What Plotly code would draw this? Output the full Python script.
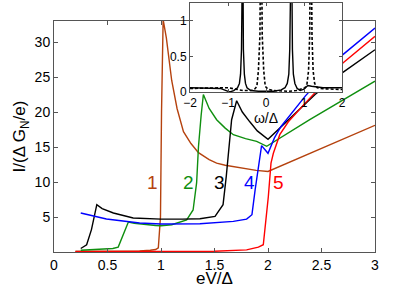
import plotly.graph_objects as go

# ---- main panel data (eV/Delta, I/(Delta G_N/e)) ----
x1 = [0.2, 0.5, 0.8, 0.9, 0.95, 0.975, 0.995, 1.005, 1.02, 1.05, 1.1, 1.15, 1.21, 1.28, 1.35, 1.45, 1.52, 1.6, 1.74, 1.89, 2.0, 2.5, 3.0]
y1 = [0.1, 0.1, 0.15, 0.25, 0.35, 0.6, 5.0, 20.0, 33.2, 30.6, 24.5, 20.5, 17.2, 15.5, 14.2, 13.2, 12.7, 12.4, 12.0, 11.66, 11.5, 14.8, 18.1]

x2 = [0.25, 0.4, 0.55, 0.6, 0.65, 0.695, 0.75, 0.85, 0.95, 1.0, 1.1, 1.24, 1.3, 1.333, 1.35, 1.375, 1.396, 1.45, 1.52, 1.6, 1.676, 1.79, 1.894, 1.988, 2.39, 3.0]
y2 = [0.25, 0.35, 0.5, 0.7, 2.5, 4.28, 4.1, 3.9, 3.78, 3.76, 3.9, 4.6, 6.0, 9.9, 15.0, 19.5, 22.5, 20.5, 18.9, 17.7, 16.76, 16.2, 15.8, 15.1, 18.9, 24.4]

x3 = [0.25, 0.305, 0.35, 0.4, 0.45, 0.555, 0.74, 1.0, 1.2, 1.364, 1.505, 1.58, 1.61, 1.66, 1.707, 1.76, 1.83, 1.9, 2.0, 2.096, 2.44, 2.7, 3.0]
y3 = [0.5, 1.04, 3.2, 6.76, 6.2, 5.57, 4.86, 4.7, 4.7, 4.76, 5.09, 6.76, 10.8, 18.9, 21.6, 20.0, 18.6, 17.3, 16.1, 17.5, 22.5, 25.66, 28.9]

x4 = [0.25, 0.49, 0.8, 1.0, 1.364, 1.676, 1.8, 1.85, 1.88, 1.91, 1.94, 2.0, 2.06, 2.12, 2.35, 2.7, 3.0]
y4 = [5.57, 4.71, 4.14, 4.0, 4.04, 4.37, 4.7, 5.33, 8.9, 11.76, 15.2, 14.1, 16.3, 17.9, 22.3, 28.2, 32.0]

x5 = [0.2, 1.0, 1.5, 1.8, 1.91, 1.956, 1.972, 2.003, 2.028, 2.05, 2.11, 2.19, 2.35, 2.7, 3.0]
y5 = [0.05, 0.05, 0.1, 0.3, 0.7, 1.04, 3.2, 7.9, 12.7, 14.1, 16.76, 18.6, 21.3, 27.0, 30.8]

curve_labels = ["1", "2", "3", "4", "5"]
label_x = [0.925, 1.255, 1.55, 1.825, 2.096]
label_y = [9.9, 9.95, 9.86, 9.86, 9.86]

# ---- inset data (omega/Delta, spectral weight) ----
w_solid = [-2.0, -1.5, -1.2, -1.05, -0.95, -0.85, -0.75, -0.70, -0.67, -0.645, -0.63, -0.62, -0.61, -0.595, -0.57,
           -0.54, -0.5, -0.4, -0.2, 0.0, 0.2, 0.4, 0.5, 0.56, 0.6, 0.625, 0.645, 0.66, 0.675, 0.695, 0.72, 0.76,
           0.82, 0.9, 1.0, 1.1, 1.2, 1.3, 1.5, 2.0]
a_solid = [0.06, 0.06, 0.05, 0.02, 0.0, 0.02, 0.06, 0.12, 0.25, 0.6, 1.4, 3.0, 1.4, 0.6, 0.25,
           0.12, 0.06, 0.02, 0.01, 0.01, 0.01, 0.03, 0.06, 0.12, 0.25, 0.6, 1.4, 3.0, 1.4, 0.6, 0.25, 0.12,
           0.05, 0.02, 0.04, 0.09, 0.08, 0.07, 0.06, 0.06]

w_dash = [-2.0, -1.5, -1.2, -1.0, -0.8, -0.6, -0.4, -0.3, -0.24, -0.2, -0.16, -0.13, -0.10, -0.06, -0.02,
          0.05, 0.2, 0.4, 0.6, 0.8, 0.95, 1.03, 1.08, 1.12, 1.15, 1.18, 1.21, 1.24, 1.28, 1.35, 1.5, 1.7, 2.0]
a_dash = [0.05, 0.05, 0.05, 0.06, 0.04, 0.02, 0.02, 0.04, 0.08, 0.3, 0.8, 3.0, 0.8, 0.3, 0.08,
          0.04, 0.02, 0.01, 0.01, 0.02, 0.04, 0.06, 0.12, 0.3, 0.8, 3.0, 0.8, 0.3, 0.12, 0.06, 0.045, 0.04, 0.035]

main_x_ticks = [0, 0.5, 1, 1.5, 2, 2.5, 3]
main_x_text = ["0", "0.5", "1", "1.5", "2", "2.5", "3"]
main_y_ticks = [5, 10, 15, 20, 25, 30]
inset_x_ticks = [-2, -1, 0, 1, 2]
inset_x_text = ["\u22122", "\u22121", "0", "1", "2"]
inset_y_ticks = [0, 0.5, 1]
inset_y_text = ["0", "0.5", "1"]

colors = ["#b5420e", "#0f8f0f", "#000000", "#0000ff", "#ff0000"]
FONT = "Liberation Sans, Arial, sans-serif"
AX = "#555555"

fig = go.Figure()
for xs, ys, c in zip([x1, x2, x3, x4, x5], [y1, y2, y3, y4, y5], colors):
    fig.add_trace(go.Scatter(x=xs, y=ys, mode="lines", line=dict(color=c, width=1.4),
                             xaxis="x", yaxis="y", showlegend=False, hoverinfo="skip"))

fig.add_trace(go.Scatter(x=w_dash, y=a_dash, mode="lines",
                         line=dict(color="black", width=1.6, dash="3px,2px"),
                         xaxis="x2", yaxis="y2", showlegend=False, hoverinfo="skip"))
fig.add_trace(go.Scatter(x=w_solid, y=a_solid, mode="lines", line=dict(color="black", width=1.4),
                         xaxis="x2", yaxis="y2", showlegend=False, hoverinfo="skip"))

for t, lx, ly, c in zip(curve_labels, label_x, label_y, colors):
    fig.add_annotation(x=lx, y=ly, xref="x", yref="y", text=t, showarrow=False,
                       font=dict(family=FONT, size=19, color=c))

fig.update_layout(
    width=415, height=288,
    margin=dict(l=54, r=40, t=3, b=36),
    paper_bgcolor="white", plot_bgcolor="white",
    font=dict(family=FONT, color="black"),
    xaxis=dict(domain=[0, 1], range=[0, 3], tickvals=main_x_ticks, ticktext=main_x_text,
               ticks="inside", ticklen=4, tickcolor=AX, showline=True, linecolor=AX, linewidth=1,
               mirror="ticks", showgrid=False, zeroline=False, tickfont=dict(size=14),
               title=dict(text="eV/\u0394", font=dict(size=17), standoff=0), automargin=False),
    yaxis=dict(domain=[0, 0.9277], range=[0, 33], tickvals=main_y_ticks,
               ticks="inside", ticklen=4, tickcolor=AX, showline=True, linecolor=AX, linewidth=1,
               mirror="ticks", showgrid=False, zeroline=False, tickfont=dict(size=14),
               title=dict(text="I/(\u0394 G<sub>N</sub>/e)", font=dict(size=17), standoff=4),
               automargin=False),
    xaxis2=dict(domain=[0.4237, 0.8972], range=[-2, 2], anchor="y2", tickvals=inset_x_ticks,
                ticktext=inset_x_text, ticks="inside", ticklen=3, tickcolor=AX, showline=True,
                linecolor=AX, linewidth=1, mirror="ticks", showgrid=False, zeroline=False,
                tickfont=dict(size=12),
                title=dict(text="\u03c9/\u0394", font=dict(size=14), standoff=0), automargin=False),
    yaxis2=dict(domain=[0.6426, 1.0], range=[0, 1.25], anchor="x2", tickvals=inset_y_ticks,
                ticktext=inset_y_text, ticks="inside", ticklen=3, tickcolor=AX, showline=True,
                linecolor=AX, linewidth=1, mirror="ticks", showgrid=False, zeroline=False,
                tickfont=dict(size=12), automargin=False),
)

fig.write_html("out.html", config={"displayModeBar": False},
               post_script="document.body.style.margin='0';document.body.style.padding='0';")
